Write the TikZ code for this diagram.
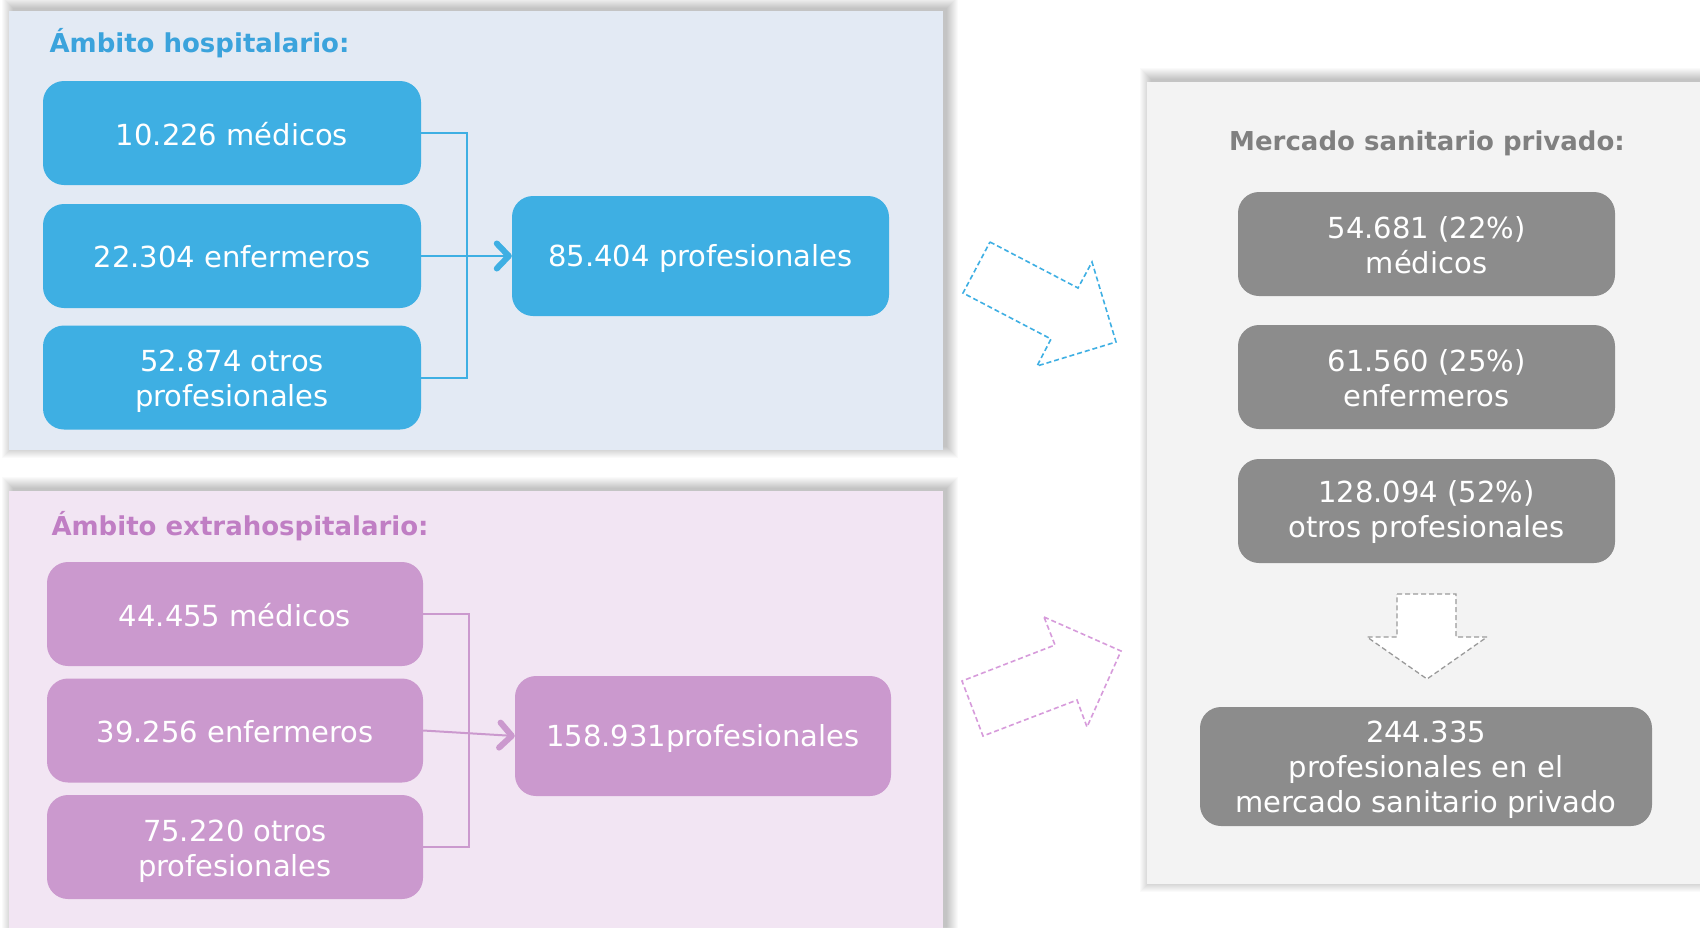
\documentclass[tikz,border=0pt]{standalone}
\usepackage{fontspec}
\setmainfont{DejaVu Sans}
\usetikzlibrary{arrows.meta}
\definecolor{bluebg}{HTML}{E3EAF4}
\definecolor{bluebox}{HTML}{3EAFE3}
\definecolor{bluetitle}{HTML}{3BA3DC}
\definecolor{pinkbg}{HTML}{F2E5F3}
\definecolor{pinkbox}{HTML}{CB99CE}
\definecolor{pinktitle}{HTML}{C07EC4}
\definecolor{pinkdash}{HTML}{D79BDB}
\definecolor{graybg}{HTML}{F3F3F3}
\definecolor{graybox}{HTML}{8C8C8C}
\definecolor{graytitle}{HTML}{808080}
\definecolor{graydash}{HTML}{9A9A9A}
\newcommand{\panelshadow}[4]{%
  \foreach \e in {0,...,11} {\fill[black,opacity=0.018] (#1+4-\e, #2-3-\e) rectangle (#3+4+\e, #4-3+\e);}}
\newcommand{\lowtext}[2]{\raisebox{-#1}[\height][\depth]{#2}}
\tikzset{
  box/.style={rounded corners=21pt, text=white, align=center,
    font=\fontsize{29}{35}\selectfont, inner sep=0pt,
    minimum width=378pt, minimum height=104pt},
  bigbox/.style={box, minimum height=120pt},
  ptitle/.style={anchor=base west, font=\bfseries\fontsize{26}{30}\selectfont},
  conn/.style={line width=2pt},
  tip/.style={-{Straight Barb[length=12pt,width=25pt,line width=6pt,round]}},
  dasharrow/.style={line width=1.6pt, dash pattern=on 5pt off 3pt, fill=white},
}
\begin{document}
\begin{tikzpicture}[x=1pt,y=-1pt]
\useasboundingbox (0,0) rectangle (1700,927);
\fill[white] (0,0) rectangle (1700,927);

% panels
\panelshadow{9}{11}{943}{450}
\fill[bluebg] (9,11) rectangle (943,450);
\panelshadow{9}{491}{943}{940}
\fill[pinkbg] (9,491) rectangle (943,940);
\panelshadow{1147}{82}{1720}{884}
\fill[graybg] (1147,82) rectangle (1720,884);

% titles
\node[ptitle, text=bluetitle] (t1) at (46,52) {Ámbito hospitalario:};
\node[ptitle, text=pinktitle] (t2) at (48,535) {Ámbito extrahospitalario:};
\node[anchor=base, font=\bfseries\fontsize{26}{30}\selectfont, text=graytitle] (t3) at (1427,150) {Mercado sanitario privado:};

% blue boxes
\node[box, fill=bluebox] (m1) at (232,133) {\lowtext{1pt}{10.226 médicos}};
\node[box, fill=bluebox] (m2) at (232,256) {\lowtext{1pt}{22.304 enfermeros}};
\node[box, fill=bluebox] (m3) at (232,377.5) {\lowtext{4pt}{\parbox{300pt}{\centering 52.874 otros\\profesionales}}};
\node[bigbox, fill=bluebox, minimum width=377pt] (mt) at (700.5,256) {\lowtext{2pt}{85.404 profesionales}};

\coordinate (bx) at (467,0);
\draw[conn, bluebox] (m1.east) -- (m1.east -| bx) -- (m3.east -| bx) -- (m3.east);
\draw[conn, bluebox, tip] (m2.east) -- (mt.west);

% pink boxes
\node[box, fill=pinkbox, minimum width=376pt] (p1) at (235,614) {\lowtext{1pt}{44.455 médicos}};
\node[box, fill=pinkbox, minimum width=376pt] (p2) at (235,730.5) {\lowtext{1pt}{39.256 enfermeros}};
\node[box, fill=pinkbox, minimum width=376pt] (p3) at (235,847) {\lowtext{4pt}{\parbox{300pt}{\centering 75.220 otros\\profesionales}}};
\node[bigbox, fill=pinkbox, minimum width=376pt] (pt) at (703,736) {\lowtext{2pt}{158.931profesionales}};

\coordinate (px) at (469,0);
\draw[conn, pinkbox] (p1.east) -- (p1.east -| px) -- (p3.east -| px) -- (p3.east);
\draw[conn, pinkbox, tip] (p2.east) -- (pt.west);

% gray boxes
\node[box, fill=graybox, minimum width=377pt] (g1) at (1426.5,244) {\lowtext{1pt}{\parbox{360pt}{\centering 54.681 (22\%)\\médicos}}};
\node[box, fill=graybox, minimum width=377pt] (g2) at (1426.5,377) {\lowtext{1pt}{\parbox{360pt}{\centering 61.560 (25\%)\\enfermeros}}};
\node[box, fill=graybox, minimum width=377pt] (g3) at (1426.5,511) {\lowtext{1pt}{\parbox{360pt}{\centering 128.094 (52\%)\\otros profesionales}}};
\node[box, fill=graybox, minimum width=452pt, minimum height=119pt] (gt) at (1426,766.5) {\lowtext{3pt}{\parbox{440pt}{\centering 244.335\\profesionales en el\\mercado sanitario privado}}};

% dashed block arrows
\draw[dasharrow, draw=bluebox] (990,242) -- (1078,288) -- (1092,262) -- (1116,342) -- (1037,366) -- (1051,339) -- (963,293) -- cycle;
\draw[dasharrow, draw=pinkdash] (1044,617) -- (1121,651) -- (1087,727) -- (1077,700) -- (983,736) -- (962,681) -- (1055,645) -- cycle;
\draw[dasharrow, draw=graydash, line width=1.3pt] (1397,594) -- (1456,594) -- (1456,637) -- (1487,637) -- (1427,679) -- (1367,637) -- (1397,637) -- cycle;
\end{tikzpicture}
\end{document}
